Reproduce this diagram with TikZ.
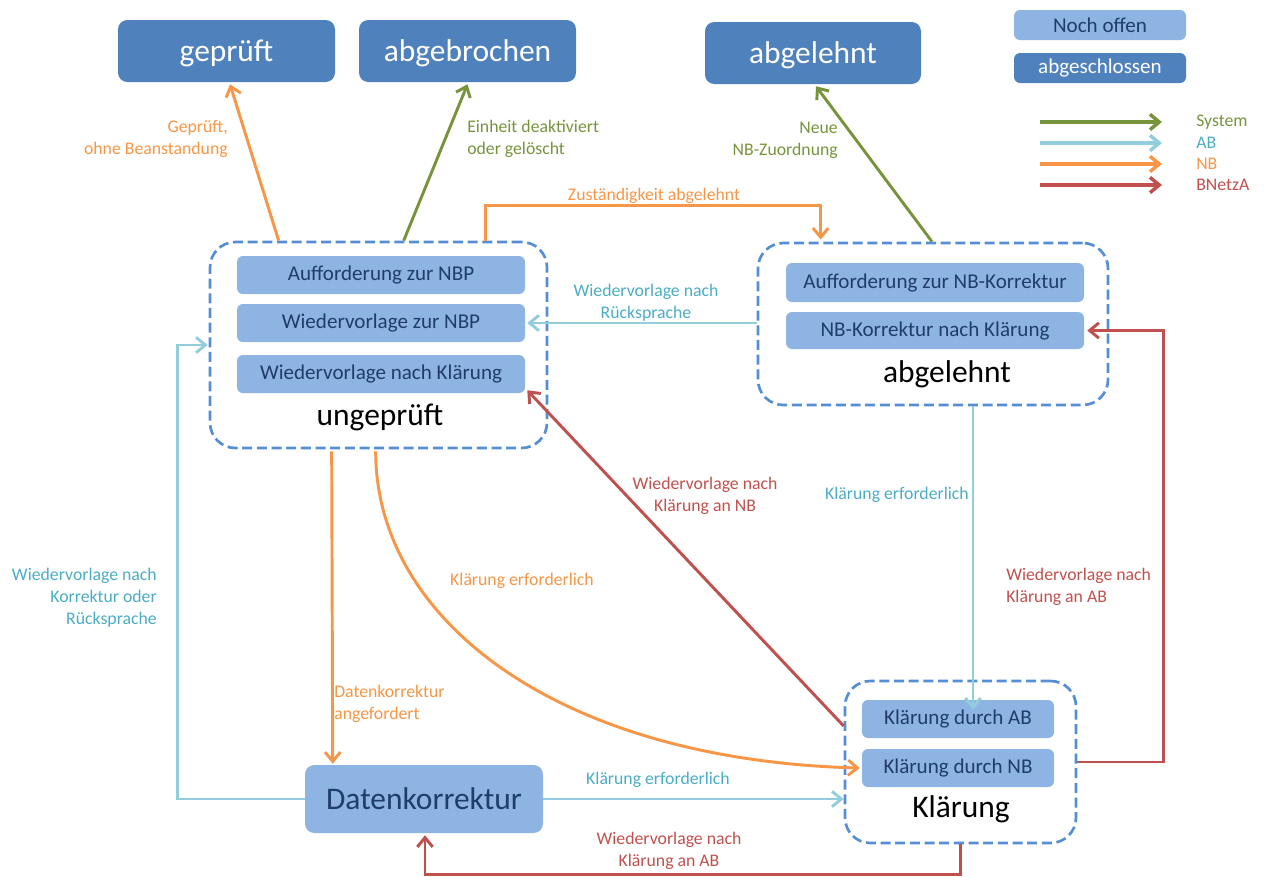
\documentclass[tikz,border=0pt]{standalone}
\usepackage{fontspec}
\setmainfont{Carlito}
\usetikzlibrary{arrows.meta,calc}
\definecolor{dblue}{HTML}{4F81BD}
\definecolor{lblue}{HTML}{8EB4E3}
\definecolor{tblue}{HTML}{1F3D6B}
\definecolor{cborder}{HTML}{558ED5}
\definecolor{cgreen}{HTML}{77933C}
\definecolor{cab}{HTML}{93CDDD}
\definecolor{cabtext}{HTML}{4BACC6}
\definecolor{corange}{HTML}{F79646}
\definecolor{cred}{HTML}{C0504D}
\begin{document}
\begin{tikzpicture}[x=0.75pt,y=-0.75pt,
  wh/.style 2 args={minimum width=#1*0.75pt, minimum height=#2*0.75pt},
  bigfont/.style={font=\fontsize{23.6}{28}\selectfont},
  done/.style={fill=dblue, rounded corners=7pt, text=white, bigfont, inner sep=0pt, text depth=0pt},
  openbig/.style={fill=lblue, rounded corners=7pt, text=tblue, bigfont, inner sep=0pt},
  subbox/.style={fill=lblue, rounded corners=4.5pt, text=tblue, font=\fontsize{15.8}{19}\selectfont, inner sep=0pt},
  container/.style={draw=cborder, line width=2pt, dash pattern=on 7.5pt off 3.5pt, rounded corners=19pt, inner sep=0pt},
  ctitle/.style={bigfont, text=black, inner sep=0pt},
  conn/.style={line width=2.2pt, -{Straight Barb[length=7pt,width=11.5pt]}},
  sys/.style={conn, draw=cgreen},
  ab/.style={conn, draw=cab},
  nb/.style={conn, draw=corange},
  bn/.style={conn, draw=cred},
  lab/.style={font=\fontsize{13.3}{16.5}\selectfont, inner sep=0pt},
  labsys/.style={lab, text=cgreen},
  labab/.style={lab, text=cabtext},
  labnb/.style={lab, text=corange},
  labbn/.style={lab, text=cred},
]
\useasboundingbox (0,0) rectangle (1265,876);

% final states
\node[done, wh={217}{62}] (geprueft) at (226.5,51) {geprüft};
\node[done, wh={217}{62}] (abgebrochen) at (467.5,51) {abgebrochen};
\node[done, wh={216}{62}] (abgTop) at (813,53) {abgelehnt};

% legend
\node[subbox, wh={172}{30}] (legOpen) at (1100,25) {Noch offen};
\node[subbox, fill=dblue, text=white, wh={172}{30}] (legDone) at (1100,68) {abgeschlossen};
\coordinate (ls1) at (1040,122); \coordinate (le1) at (1162,122);
\coordinate (ls2) at (1040,143); \coordinate (le2) at (1162,143);
\coordinate (ls3) at (1040,164); \coordinate (le3) at (1162,164);
\coordinate (ls4) at (1040,185); \coordinate (le4) at (1162,185);
\draw[sys, line width=2.6pt] (ls1) -- (le1);
\draw[ab, line width=2.6pt] (ls2) -- (le2);
\draw[nb, line width=2.6pt] (ls3) -- (le3);
\draw[bn, line width=2.6pt] (ls4) -- (le4);
\node[labsys, anchor=west] (lt1) at (1196,122) {System};
\node[labab, anchor=west] (lt2) at (1196,143) {AB};
\node[labnb, anchor=west] (lt3) at (1196,164) {NB};
\node[labbn, anchor=west] (lt4) at (1196,185) {BNetzA};

% ungeprüft
\node[container, wh={337}{206}] (ungC) at (378.5,345) {};
\node[subbox, wh={288}{38}] (u1) at (381,275) {Aufforderung zur NBP};
\node[subbox, wh={288}{38}] (u2) at (381,323) {Wiedervorlage zur NBP};
\node[subbox, wh={288}{38}] (u3) at (381,374) {Wiedervorlage nach Klärung};
\node[ctitle] (ungT) at (380,417) {ungeprüft};

% abgelehnt
\node[container, wh={350}{162}] (abgC) at (933,324) {};
\node[subbox, wh={298}{39}] (a1) at (935,282.5) {Aufforderung zur NB-Korrektur};
\node[subbox, wh={298}{37}] (a2) at (935,330.5) {NB-Korrektur nach Klärung};
\node[ctitle] (abgT) at (947,374) {abgelehnt};

% Klärung
\node[container, wh={231}{162}] (klC) at (960.5,762) {};
\node[subbox, wh={192}{38}] (k1) at (958,719) {Klärung durch AB};
\node[subbox, wh={192}{38}] (k2) at (958,768) {Klärung durch NB};
\node[ctitle] (klT) at (961,809) {Klärung};

% Datenkorrektur
\node[openbig, wh={238}{68}] (dk) at (424,799) {Datenkorrektur};

% connectors
\draw[nb] ($(ungC.north west)+(70,0)$) -- ($(geprueft.south)+(3.5,2)$);
\node[labnb, align=right, anchor=east] (l1) at (228,139) {Geprüft,\\ohne Beanstandung};

\draw[sys] ($(ungC.north west)+(195,0)$) -- ($(abgebrochen.south)+(0,2)$);
\node[labsys, align=left, anchor=west] (l2) at (467,139) {Einheit deaktiviert\\oder gelöscht};

\draw[sys] ($(abgC.north)+(-1,0)$) -- ($(abgTop.south)+(3,2)$);
\node[labsys, align=right, anchor=east] (l3) at (838,140) {Neue\\NB-Zuordnung};

\draw[nb] ($(ungC.north west)+(277,0)$) -- ++(0,-35) -| ($(abgC.north west)+(64,-2)$);
\node[labnb] (l4) at (654,196) {Zuständigkeit abgelehnt};

\draw[ab] (abgC.west |- u2.east) -- ($(u2.east)+(2,0)$);
\node[labab, align=center] (l5) at (646,303) {Wiedervorlage nach\\Rücksprache};

\draw[ab] ($(abgC.south)+(40,0)$) -- ($(k1.north)+(15,10)$);
\node[labab, anchor=east] (l6) at (969,495) {Klärung erforderlich};

\draw[bn] (klC.east) -- ++(86,0) |- ($(a2.east)+(3,0)$);
\node[labbn, align=left, anchor=west] (l7) at (1006,587) {Wiedervorlage nach\\Klärung an AB};

\draw[bn] ($(klC.west)+(0,-36)$) -- ($(u3.south east)+(2,-3)$);
\node[labbn, align=center] (l8) at (705,496) {Wiedervorlage nach\\Klärung an NB};

\draw[nb] ($(ungC.south west)+(123,2)$) -- ($(dk.north west)+(28,-1)$);
\node[labnb, align=left, anchor=west] (l9) at (334,704) {Datenkorrektur\\angefordert};

\draw[nb] ($(ungC.south west)+(167,2)$) .. controls +(0,170) and +(-300,-8) .. ($(k2.west)+(-2,0)$);
\node[labnb] (l10) at (522,581) {Klärung erforderlich};

\draw[ab] (dk.east) -- (dk.east -| klC.west);
\node[labab] (l11) at (658,780) {Klärung erforderlich};

\draw[bn] (klC.south) -- ++(0,30) -| ($(dk.south)+(1,2)$);
\node[labbn, align=center] (l12) at (669,851) {Wiedervorlage nach\\Klärung an AB};

\draw[ab] (dk.west) -- ++(-127,0) |- ($(ungC.west)+(-1,0)$);
\node[labab, align=right, anchor=east] (l13) at (157,598) {Wiedervorlage nach\\Korrektur oder\\Rücksprache};
\end{tikzpicture}
\end{document}
